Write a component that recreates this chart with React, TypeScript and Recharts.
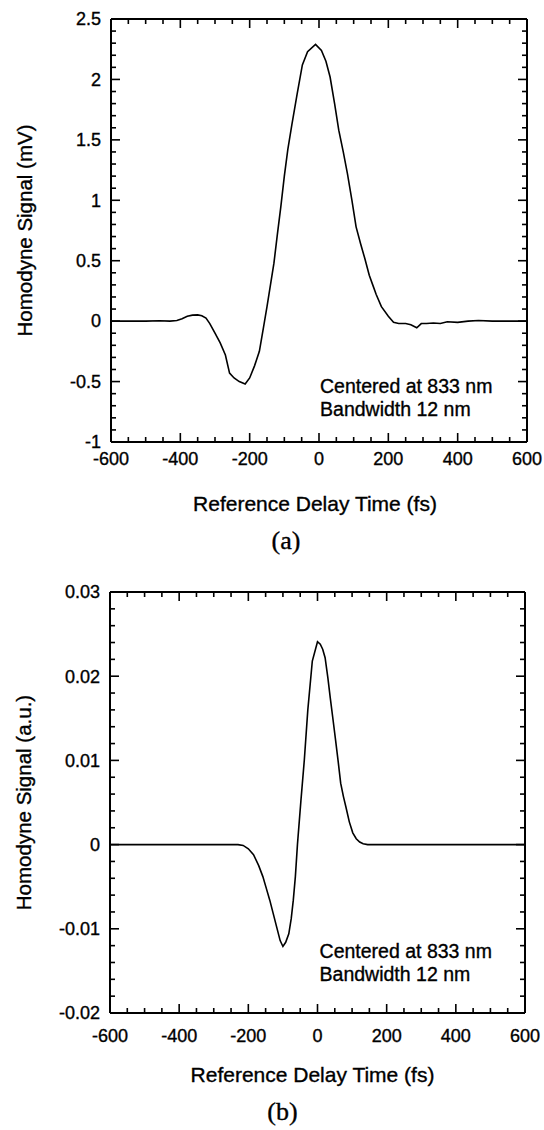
import React from "react";
import { LineChart, Line, XAxis, YAxis, ReferenceDot } from "recharts";

// (a) measured homodyne trace, mV
const DELAY_A = [
  -600, -550, -500, -460, -430, -410, -395, -380, -365, -350, -338, -326, -315,
  -300, -285, -270, -258, -245, -230, -213, -200, -186, -172, -160, -150, -140,
  -130, -120, -110, -100, -90, -78, -63, -48, -33, -10, 7, 20, 32, 45, 57, 70,
  82, 95, 107, 120, 132, 145, 155, 165, 180, 200, 215, 230, 250, 265, 282, 295,
  310, 330, 350, 370, 400, 430, 460, 500, 550, 600,
];
const SIGNAL_A = [
  0, 0, 0, 0.003, 0, 0.005, 0.02, 0.04, 0.05, 0.052, 0.045, 0.025, -0.02,
  -0.1, -0.18, -0.28, -0.43, -0.47, -0.5, -0.52, -0.47, -0.37, -0.25, -0.05,
  0.12, 0.3, 0.48, 0.72, 0.95, 1.2, 1.42, 1.63, 1.88, 2.12, 2.23, 2.29, 2.24,
  2.15, 2.02, 1.8, 1.58, 1.4, 1.22, 1.0, 0.78, 0.64, 0.52, 0.38, 0.3, 0.22,
  0.12, 0.04, -0.01, -0.02, -0.02, -0.03, -0.055, -0.02, -0.02, -0.015, -0.02,
  -0.005, -0.01, 0, 0.005, 0, 0, 0,
];

// (b) simulated trace, a.u.
const DELAY_B = [
  -600, -400, -230, -215, -200, -185, -170, -158, -148, -138, -128, -118, -108,
  -100, -92, -83, -76, -70, -64, -58, -48, -38, -28, -15, 0, 8, 15, 22, 30, 37,
  45, 52, 60, 67, 75, 82, 92, 102, 112, 122, 132, 145, 300, 600,
];
const SIGNAL_B = [
  0, 0, 0, -0.0001, -0.0005, -0.0012, -0.0025, -0.0038, -0.0052, -0.0066,
  -0.0082, -0.0098, -0.0114, -0.0121, -0.0116, -0.0106, -0.0088, -0.0066,
  -0.0038, 0, 0.0052, 0.0101, 0.016, 0.0218, 0.0241, 0.0238, 0.0232, 0.0222,
  0.0198, 0.0174, 0.0148, 0.0125, 0.0098, 0.0073, 0.0057, 0.0045, 0.0027,
  0.0014, 0.0007, 0.0003, 0.0001, 0, 0, 0,
];

const X_MAJOR = [-600, -400, -200, 0, 200, 400, 600];
const Y_MAJOR_A = [-1, -0.5, 0, 0.5, 1, 1.5, 2, 2.5];
const Y_MAJOR_B = [-0.02, -0.01, 0, 0.01, 0.02, 0.03];

const NOTE = ["Centered at 833 nm", "Bandwidth 12 nm"];
const X_TITLE = "Reference Delay Time (fs)";

const SANS = '"Liberation Sans", Arial, Helvetica, sans-serif';
const SERIF = '"Liberation Serif", "Times New Roman", serif';
// scanned type looks heavier than a clean regular face
const INK = { fill: "#000", stroke: "#000", strokeWidth: 0.35 };

// minor tick positions
const steps = (lo: number, hi: number, step: number) => {
  const out: number[] = [];
  const n = Math.round((hi - lo) / step);
  for (let i = 0; i <= n; i++) out.push(+(lo + i * step).toFixed(6));
  return out;
};

type Side = "bottom" | "top" | "left" | "right";

function makeTick(side: Side, majors: number[], labelGap = 23) {
  return (props: any) => {
    const x = Number(props.x);
    const y = Number(props.y);
    const m = majors.find((v) => Math.abs(v - props.payload.value) < 1e-9);
    const major = m !== undefined;
    const len = major ? 9 : 5;
    let d = "";
    if (side === "bottom") d = `M${x},${y}V${y - len}`;
    else if (side === "top") d = `M${x},${y}V${y + len}`;
    else if (side === "left") d = `M${x},${y}H${x + len}`;
    else d = `M${x},${y}H${x - len}`;
    return (
      <g>
        <path d={d} stroke="#000" strokeWidth={1.6} fill="none" />
        {major && side === "bottom" && (
          <text x={x} y={y + labelGap} textAnchor="middle" fontSize={18} fontFamily={SANS} {...INK}>
            {String(m)}
          </text>
        )}
        {major && side === "left" && (
          <text x={x - 10} y={y} dy="0.35em" textAnchor="end" fontSize={18} fontFamily={SANS} {...INK}>
            {String(m)}
          </text>
        )}
      </g>
    );
  };
}

const BottomTitles = (props: any) => {
  const { viewBox, caption, titleDx, captionDx } = props;
  const cx = viewBox.x + viewBox.width / 2;
  const y = viewBox.y;
  return (
    <g>
      <text x={cx + titleDx} y={y + 69} textAnchor="middle" fontSize={21} fontFamily={SANS} {...INK}>
        {X_TITLE}
      </text>
      <text x={cx + captionDx} y={y + 107} textAnchor="middle" fontSize={26} fontFamily={SERIF} {...INK}>
        {caption}
      </text>
    </g>
  );
};

const SideTitle = (props: any) => {
  const { viewBox, text } = props;
  const cx = viewBox.x + viewBox.width - 87;
  const cy = viewBox.y + viewBox.height / 2;
  return (
    <text
      x={cx}
      y={cy}
      transform={`rotate(-90 ${cx} ${cy})`}
      textAnchor="middle"
      dominantBaseline="central"
      fontSize={20.5}
      fontFamily={SANS}
      {...INK}
    >
      {text}
    </text>
  );
};

const Note = (props: any) => {
  const { viewBox, gap } = props;
  const x = viewBox.x + viewBox.width / 2;
  const y = viewBox.y + viewBox.height / 2;
  return (
    <text x={x} y={y} fontSize={19.5} fontFamily={SANS} {...INK}>
      <tspan x={x}>{NOTE[0]}</tspan>
      <tspan x={x} dy={gap}>{NOTE[1]}</tspan>
    </text>
  );
};

type PanelProps = {
  delay: number[];
  signal: number[];
  yDomain: [number, number];
  yMajor: number[];
  yStep: number;
  yTitle: string;
  caption: string;
  margin: { top: number; right: number; bottom: number; left: number };
  tickGap: number;
  note: { x: number; y: number; gap: number };
  titleDx: number;
  captionDx: number;
};

function Panel(p: PanelProps) {
  const rows = p.delay.map((d, i) => ({ delay: d, signal: p.signal[i] }));
  const xTicks = steps(-600, 600, 50);
  const yTicks = steps(p.yDomain[0], p.yDomain[1], p.yStep);
  const frame = { stroke: "#000", strokeWidth: 2 };
  return (
    <LineChart width={544} height={565} data={rows} margin={p.margin} style={{ display: "block" }}>
      <XAxis
        xAxisId="b"
        dataKey="delay"
        type="number"
        domain={[-600, 600]}
        allowDataOverflow
        ticks={xTicks}
        interval={0}
        height={1}
        tickSize={0}
        tickMargin={0}
        tickLine={false}
        axisLine={frame}
        tick={makeTick("bottom", X_MAJOR, p.tickGap)}
        label={<BottomTitles caption={p.caption} titleDx={p.titleDx} captionDx={p.captionDx} />}
      />
      <XAxis
        xAxisId="t"
        orientation="top"
        dataKey="delay"
        type="number"
        domain={[-600, 600]}
        allowDataOverflow
        ticks={xTicks}
        interval={0}
        height={1}
        tickSize={0}
        tickMargin={0}
        tickLine={false}
        axisLine={frame}
        tick={makeTick("top", X_MAJOR)}
      />
      <YAxis
        yAxisId="l"
        type="number"
        domain={p.yDomain}
        allowDataOverflow
        ticks={yTicks}
        interval={0}
        width={1}
        tickSize={0}
        tickMargin={0}
        tickLine={false}
        axisLine={frame}
        tick={makeTick("left", p.yMajor)}
        label={<SideTitle text={p.yTitle} />}
      />
      <YAxis
        yAxisId="r"
        orientation="right"
        type="number"
        domain={p.yDomain}
        allowDataOverflow
        ticks={yTicks}
        interval={0}
        width={1}
        tickSize={0}
        tickMargin={0}
        tickLine={false}
        axisLine={frame}
        tick={makeTick("right", p.yMajor)}
      />
      <Line
        xAxisId="b"
        yAxisId="l"
        type="linear"
        dataKey="signal"
        stroke="#000"
        strokeWidth={1.6}
        dot={false}
        isAnimationActive={false}
      />
      <ReferenceDot
        xAxisId="b"
        yAxisId="l"
        x={p.note.x}
        y={p.note.y}
        r={1}
        fill="none"
        stroke="none"
        label={<Note gap={p.note.gap} />}
      />
    </LineChart>
  );
}

export default function App() {
  return (
    <div style={{ position: "absolute", left: 0, top: 0, width: 544, height: 1130, background: "#fff" }}>
      <Panel
        delay={DELAY_A}
        signal={SIGNAL_A}
        yDomain={[-1, 2.5]}
        yMajor={Y_MAJOR_A}
        yStep={0.1}
        yTitle="Homodyne Signal (mV)"
        caption="(a)"
        margin={{ top: 18, right: 16, bottom: 122, left: 110 }}
        tickGap={23}
        note={{ x: 3, y: -0.595, gap: 22.5 }}
        titleDx={-4}
        captionDx={-33}
      />
      <Panel
        delay={DELAY_B}
        signal={SIGNAL_B}
        yDomain={[-0.02, 0.03]}
        yMajor={Y_MAJOR_B}
        yStep={0.002}
        yTitle="Homodyne Signal (a.u.)"
        caption="(b)"
        margin={{ top: 26, right: 18, bottom: 116, left: 109 }}
        tickGap={29}
        note={{ x: 6, y: -0.0135, gap: 22.5 }}
        titleDx={-5}
        captionDx={-35}
      />
    </div>
  );
}
